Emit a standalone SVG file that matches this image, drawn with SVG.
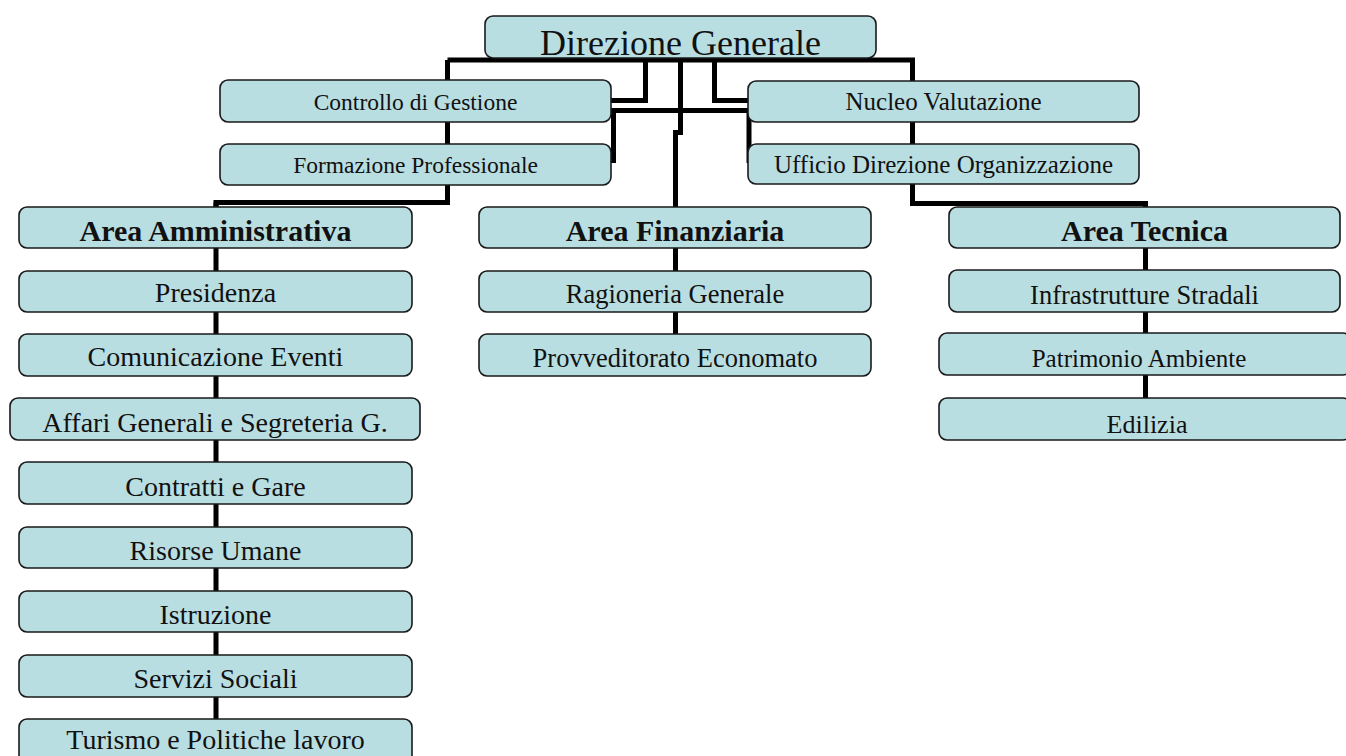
<svg xmlns="http://www.w3.org/2000/svg" width="1346" height="756" viewBox="0 0 1346 756">
<style>
.box{fill:#B9DEE2;stroke:#1a1a1a;stroke-width:1.6}
.t{font-family:"Liberation Serif","Times New Roman",serif;fill:#111;text-anchor:middle}
.b{font-weight:bold}
.c{fill:none;stroke:#000;stroke-width:5;stroke-linejoin:miter;stroke-linecap:butt}
</style>
<rect width="1346" height="756" fill="#fff"/>
<g id="connectors">
<path class="c" d="M447.5,60 H912.5 V81"/>
<path class="c" d="M447.5,60 V202.5 H216 V207"/>
<path class="c" d="M216,202.5 V756"/>
<path class="c" d="M645.5,58 V100.5 H611"/>
<path class="c" d="M714.5,58 V100.5 H749"/>
<path class="c" d="M680.5,58 V132.5 H675.5 V207"/>
<path class="c" d="M611,110.5 H749"/>
<path class="c" d="M613.5,110.5 V163"/>
<path class="c" d="M749,110.5 V163"/>
<path class="c" d="M912.5,81 V203.5 H1145.5 V398"/>
<path class="c" d="M675.5,248 V334"/>
</g>
<g id="n-direzione"><rect class="box" x="485" y="16" width="391" height="42" rx="8"/><text class="t" x="680.5" y="55" font-size="36">Direzione Generale</text></g>
<g id="n-controllo"><rect class="box" x="220" y="80" width="391" height="42" rx="8"/><text class="t" x="415.5" y="110" font-size="23.5">Controllo di Gestione</text></g>
<g id="n-formazione"><rect class="box" x="220" y="144" width="391" height="41" rx="8"/><text class="t" x="415.5" y="173" font-size="23.5">Formazione Professionale</text></g>
<g id="n-nucleo"><rect class="box" x="748" y="81" width="391" height="41" rx="8"/><text class="t" x="943.5" y="110" font-size="25">Nucleo Valutazione</text></g>
<g id="n-ufficio"><rect class="box" x="748" y="144" width="391" height="40" rx="8"/><text class="t" x="943.5" y="173" font-size="25">Ufficio Direzione Organizzazione</text></g>
<g id="n-area-amm"><rect class="box" x="19" y="207" width="393" height="41" rx="8"/><text class="t b" x="215.5" y="241" font-size="30">Area Amministrativa</text></g>
<g id="n-presidenza"><rect class="box" x="19" y="271" width="393" height="41" rx="8"/><text class="t" x="215.5" y="302" font-size="28">Presidenza</text></g>
<g id="n-comunicazione"><rect class="box" x="19" y="334" width="393" height="42" rx="8"/><text class="t" x="215.5" y="366" font-size="28">Comunicazione Eventi</text></g>
<g id="n-affari"><rect class="box" x="10" y="398" width="410" height="42" rx="8"/><text class="t" x="215" y="432" font-size="28">Affari Generali e Segreteria G.</text></g>
<g id="n-contratti"><rect class="box" x="19" y="462" width="393" height="42" rx="8"/><text class="t" x="215.5" y="496" font-size="28">Contratti e Gare</text></g>
<g id="n-risorse"><rect class="box" x="19" y="527" width="393" height="41" rx="8"/><text class="t" x="215.5" y="560" font-size="28">Risorse Umane</text></g>
<g id="n-istruzione"><rect class="box" x="19" y="591" width="393" height="41" rx="8"/><text class="t" x="215.5" y="624" font-size="28">Istruzione</text></g>
<g id="n-servizi"><rect class="box" x="19" y="655" width="393" height="42" rx="8"/><text class="t" x="215.5" y="688" font-size="28">Servizi Sociali</text></g>
<g id="n-turismo"><rect class="box" x="19" y="719" width="393" height="50" rx="8"/><text class="t" x="215.5" y="749" font-size="28">Turismo e Politiche lavoro</text></g>
<g id="n-area-fin"><rect class="box" x="479" y="207" width="392" height="41" rx="8"/><text class="t b" x="675" y="241" font-size="30">Area Finanziaria</text></g>
<g id="n-ragioneria"><rect class="box" x="479" y="271" width="392" height="41" rx="8"/><text class="t" x="675" y="303" font-size="26.5">Ragioneria Generale</text></g>
<g id="n-provveditorato"><rect class="box" x="479" y="334" width="392" height="42" rx="8"/><text class="t" x="675" y="367" font-size="26.5">Provveditorato Economato</text></g>
<g id="n-area-tec"><rect class="box" x="949" y="207" width="391" height="41" rx="8"/><text class="t b" x="1144.5" y="241" font-size="30">Area Tecnica</text></g>
<g id="n-infrastrutture"><rect class="box" x="949" y="270" width="391" height="42" rx="8"/><text class="t" x="1144.5" y="304" font-size="26.5">Infrastrutture Stradali</text></g>
<g id="n-patrimonio"><rect class="box" x="939" y="333" width="412" height="42" rx="8"/><text class="t" x="1139" y="367" font-size="25">Patrimonio Ambiente</text></g>
<g id="n-edilizia"><rect class="box" x="939" y="398" width="412" height="42" rx="8"/><text class="t" x="1147" y="433" font-size="26">Edilizia</text></g>
</svg>
